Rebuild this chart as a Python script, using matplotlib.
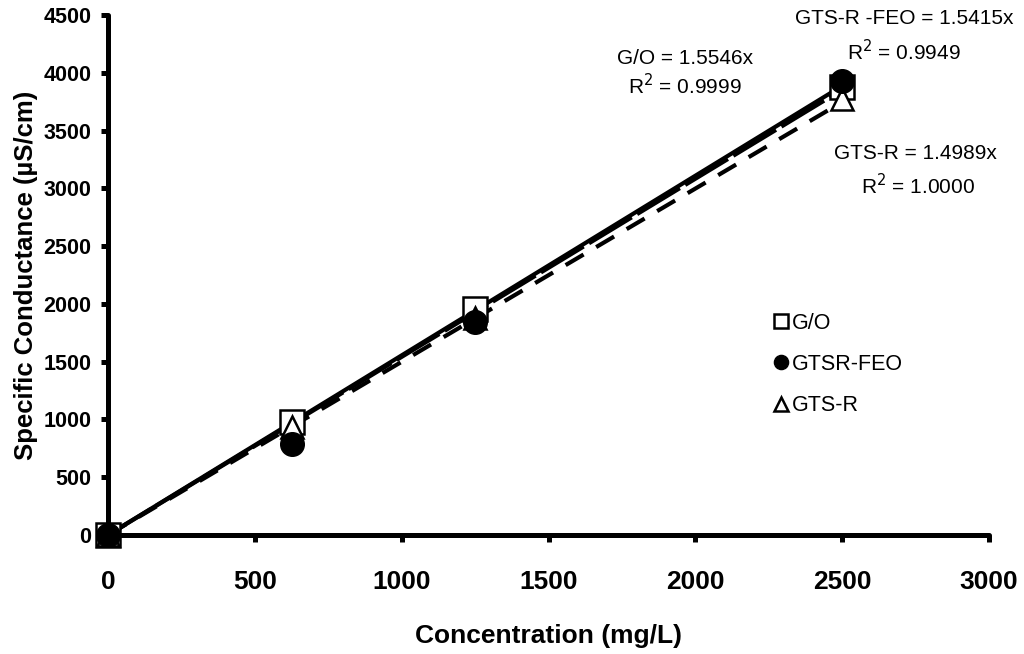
import matplotlib
matplotlib.use("Agg")
import matplotlib.pyplot as plt
import numpy as np

plt.rcParams['font.family'] = ['Liberation Sans', 'DejaVu Sans']

conc = [0, 625, 1250, 2500]
go = [0, 975, 1955, 3880]
gtsr_feo = [0, 785, 1845, 3925]
gts_r = [0, 935, 1875, 3770]
slopes = {"G/O": 1.5546, "GTSR-FEO": 1.5415, "GTS-R": 1.4989}
xticks = [0, 500, 1000, 1500, 2000, 2500, 3000]
yticks = [0, 500, 1000, 1500, 2000, 2500, 3000, 3500, 4000, 4500]

fig = plt.figure(figsize=(10.24, 6.54), dpi=100)
ax = fig.add_axes([0.1055, 0.182, 0.8603, 0.795])

xl = np.array([0, 2500])
ax.plot(xl, slopes["G/O"] * xl, color='black', lw=3.0, solid_capstyle='butt', zorder=2)
ax.plot(xl, slopes["GTSR-FEO"] * xl, color='black', lw=3.0, dashes=(12, 1.5), zorder=2)
ax.plot(xl, slopes["GTS-R"] * xl, color='black', lw=3.0, dashes=(5, 3.5), zorder=2)

ax.plot(conc, go, ls='none', marker='s', ms=17, mfc='white', mec='black', mew=1.8, zorder=5, label='G/O', clip_on=False)
ax.plot(conc, gtsr_feo, ls='none', marker='o', ms=17, mfc='black', mec='black', zorder=6, label='GTSR-FEO', clip_on=False)
ax.plot(conc, gts_r, ls='none', marker='^', ms=16, mfc='white', mec='black', mew=1.8, zorder=5, label='GTS-R', clip_on=False)

ax.set_xlim(0, 3000)
ax.set_ylim(0, 4500)
ax.set_xticks(xticks)
ax.set_yticks(yticks)
for s in ['top', 'right']:
    ax.spines[s].set_visible(False)
for s in ['left', 'bottom']:
    ax.spines[s].set_linewidth(3.6)
    ax.spines[s].set_capstyle('round')
    ax.spines[s].set_zorder(4)
ax.tick_params(axis='both', direction='out', length=5, width=3.6)
ax.tick_params(axis='x', pad=20, labelsize=19)
ax.tick_params(axis='y', pad=7, labelsize=15.5)
for lab in ax.get_xticklabels() + ax.get_yticklabels():
    lab.set_fontweight('bold')
ax.set_xlabel('Concentration (mg/L)', fontsize=19, fontweight='bold', labelpad=22)
ax.set_ylabel('Specific Conductance (\u00b5S/cm)', fontsize=18.5, fontweight='bold', labelpad=4)

leg = ax.legend(loc='upper left', bbox_to_anchor=(0.73, 0.465), frameon=False, fontsize=15.5,
                handletextpad=0.0, handlelength=1.0, labelspacing=0.95, markerscale=0.6)

fs = 15
ax.text(1965, 4123, 'G/O = 1.5546x', ha='center', va='center', fontsize=fs)
ax.text(1965, 3889, 'R$^2$ = 0.9999', ha='center', va='center', fontsize=fs)
ax.text(2710, 4470, 'GTS-R -FEO = 1.5415x', ha='center', va='center', fontsize=fs, clip_on=False)
ax.text(2710, 4184, 'R$^2$ = 0.9949', ha='center', va='center', fontsize=fs)
ax.text(2748, 3299, 'GTS-R = 1.4989x', ha='center', va='center', fontsize=fs)
ax.text(2758, 3020, 'R$^2$ = 1.0000', ha='center', va='center', fontsize=fs)

fig.savefig('out.png', dpi=100)
